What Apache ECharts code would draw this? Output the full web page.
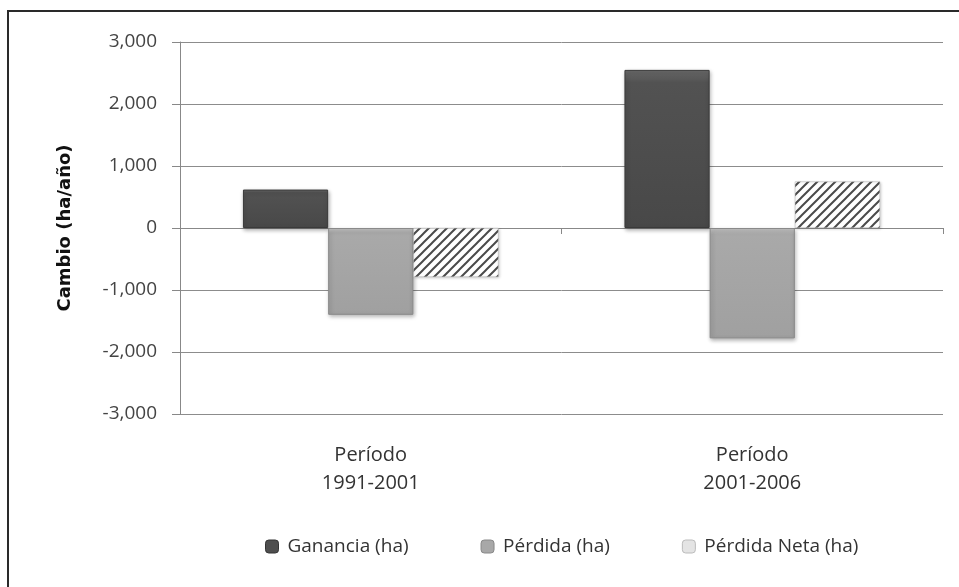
<!DOCTYPE html>
<html><head><meta charset="utf-8">
<script src="https://cdn.jsdelivr.net/npm/echarts@6/dist/echarts.min.js"></script>
<style>html,body{margin:0;padding:0;background:#fff}#c{width:959px;height:587px}</style>
</head><body><div id="c"></div>
<script>
const categories = ['Período\n1991-2001', 'Período\n2001-2006'];
const seriesNames = ['Ganancia (ha)', 'Pérdida (ha)', 'Pérdida Neta (ha)'];
const ganancia = [620, 2550];
const perdida = [-1400, -1780];
const perdidaNeta = [-790, 750];
const yTicks = [-3000, -2000, -1000, 0, 1000, 2000, 3000];

function hatch() {
  const s = 9;
  const c = document.createElement('canvas');
  c.width = s; c.height = s;
  const g = c.getContext('2d');
  g.fillStyle = '#fff'; g.fillRect(0, 0, s, s);
  g.strokeStyle = '#4a4a4a'; g.lineWidth = 2;
  g.beginPath();
  g.moveTo(-s, s); g.lineTo(s, -s);
  g.moveTo(-2, s + 2); g.lineTo(s + 2, -2);
  g.moveTo(0, 2 * s); g.lineTo(2 * s, 0);
  g.stroke();
  return c;
}

const chart = echarts.init(document.getElementById('c'));
const font = '"Open Sans", "Noto Sans", sans-serif';
chart.setOption({
  animation: false,
  textStyle: { fontFamily: font },
  graphic: [{ type: 'rect', shape: { x: 8, y: 11, width: 1000, height: 700 }, style: { fill: 'none', stroke: '#2a2a2a', lineWidth: 2 }, silent: true }],
  grid: { left: 180, right: 16, top: 42, bottom: 173 },
  legend: {
    top: 532, left: 260, itemWidth: 13, itemHeight: 13, itemGap: 72,
    textStyle: { fontSize: 19, color: '#333', fontFamily: font, padding: [0, 0, 0, 4] },
    data: [
      { name: seriesNames[0], itemStyle: { color: '#4e4e4e', borderColor: '#333', borderWidth: 1 } },
      { name: seriesNames[1], itemStyle: { color: '#a8a8a8', borderColor: '#888', borderWidth: 1 } },
      { name: seriesNames[2], itemStyle: { color: '#e4e4e4', borderColor: '#bbb', borderWidth: 1 } }
    ]
  },
  xAxis: [{
    type: 'category', data: categories, position: 'bottom',
    axisLine: { onZero: true, lineStyle: { color: '#888' } },
    axisTick: { show: true, length: 6, lineStyle: { color: '#888' } },
    axisLabel: { show: false }
  }, {
    type: 'category', data: categories, position: 'bottom',
    axisLine: { show: false, onZero: false }, axisTick: { show: false },
    axisLabel: { margin: 27, fontSize: 20, lineHeight: 28, color: '#333', fontFamily: font }
  }],
  yAxis: {
    type: 'value', min: -3000, max: 3000, interval: 1000,
    name: 'Cambio (ha/año)', nameLocation: 'middle', nameGap: 106,
    nameTextStyle: { fontWeight: 'bold', fontSize: 18, color: '#111', fontFamily: '"DejaVu Sans", sans-serif' },
    axisLine: { show: true, lineStyle: { color: '#888' } },
    axisTick: { show: true, length: 8, lineStyle: { color: '#888' } },
    axisLabel: { margin: 23, fontSize: 19, color: '#444', fontFamily: font,
      formatter: v => yTicks.includes(v) ? v.toLocaleString('en-US') : '' },
    splitLine: { lineStyle: { color: '#8c8c8c', width: 1 } }
  },
  series: [{
    name: seriesNames[0], type: 'bar', data: ganancia, barGap: '0%', barCategoryGap: '33%',
    itemStyle: {
      color: { type: 'linear', x: 0, y: 0, x2: 0, y2: 1, colorStops: [{ offset: 0, color: '#6a6a6a' }, { offset: 0.08, color: '#525252' }, { offset: 1, color: '#484848' }] },
      borderColor: '#3a3a3a', borderWidth: 1, shadowBlur: 4, shadowOffsetX: 1, shadowOffsetY: 2, shadowColor: 'rgba(0,0,0,0.3)'
    }
  }, {
    name: seriesNames[1], type: 'bar', data: perdida,
    itemStyle: {
      color: { type: 'linear', x: 0, y: 0, x2: 0, y2: 1, colorStops: [{ offset: 0, color: '#c4c4c4' }, { offset: 0.06, color: '#a9a9a9' }, { offset: 1, color: '#a0a0a0' }] },
      borderColor: '#8a8a8a', borderWidth: 1, shadowBlur: 4, shadowOffsetX: 1, shadowOffsetY: 2, shadowColor: 'rgba(0,0,0,0.3)'
    }
  }, {
    name: seriesNames[2], type: 'bar', data: perdidaNeta,
    itemStyle: { color: { image: hatch(), repeat: 'repeat' }, borderColor: '#aaa', borderWidth: 0.5, shadowBlur: 3, shadowOffsetX: 1, shadowOffsetY: 1, shadowColor: 'rgba(0,0,0,0.2)' }
  }]
});
</script></body></html>
